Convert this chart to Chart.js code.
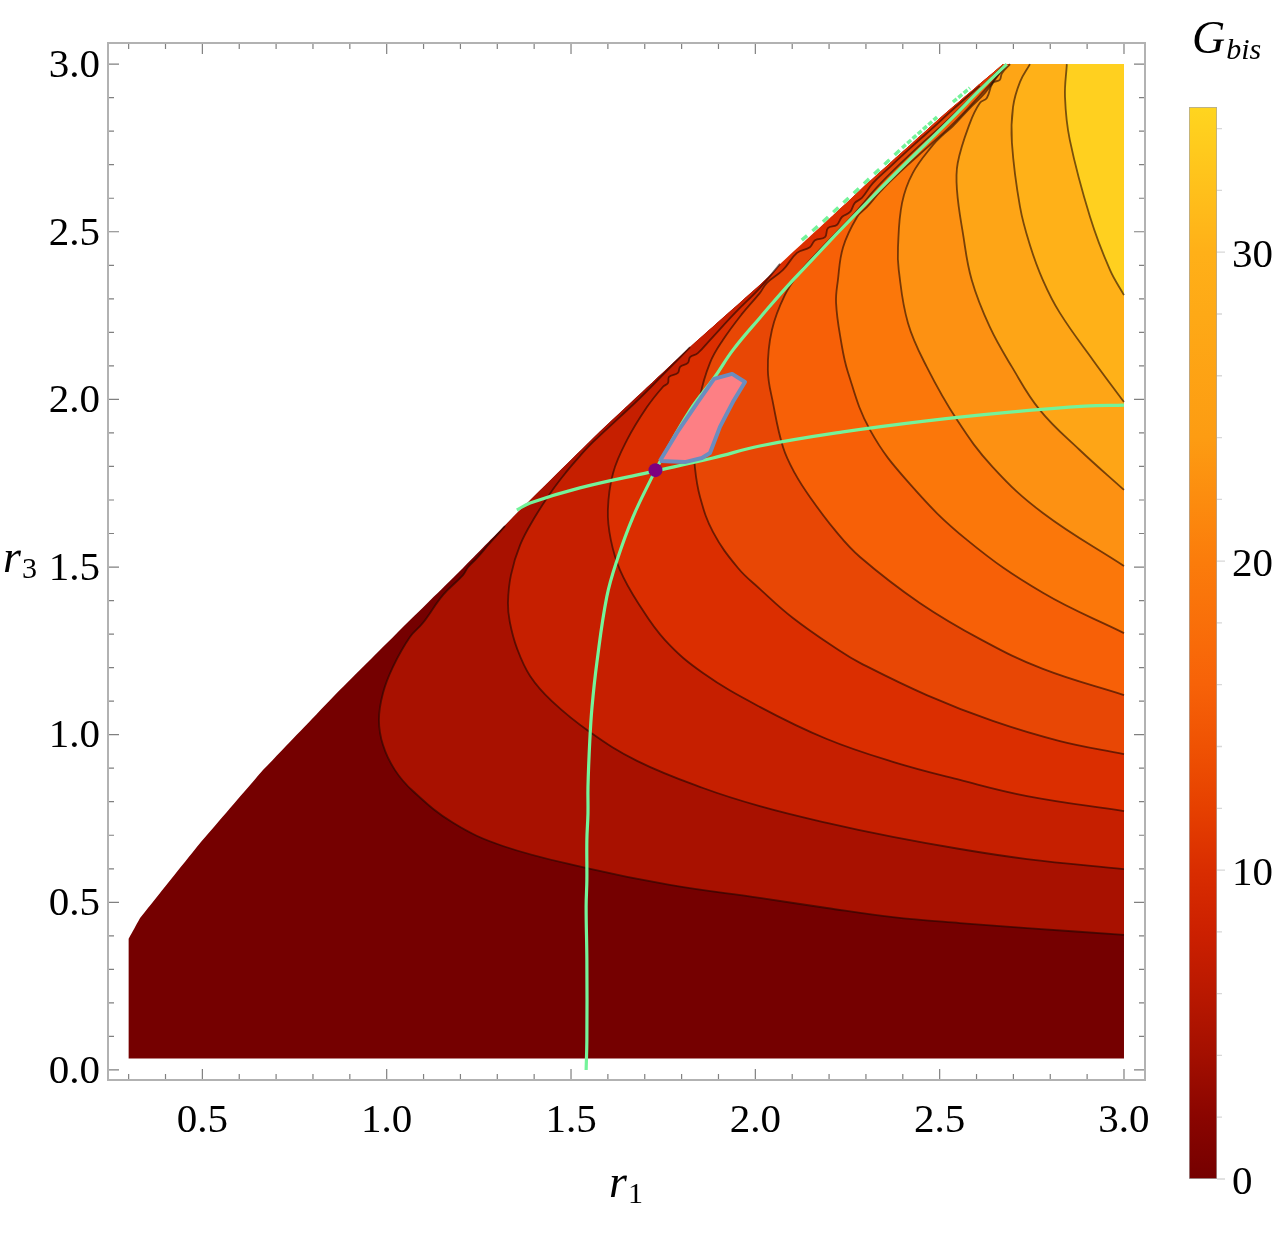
<!DOCTYPE html>
<html>
<head>
<meta charset="utf-8">
<title>G_bis contours</title>
<script src="https://cdn.jsdelivr.net/npm/chart.js@4/dist/chart.umd.min.js"></script>
<style>
	html, body { margin: 0; padding: 0; background: #fff; }
	#plot { position: absolute; left: 0; top: 0; }
	#legendBar { position: absolute; left: 1160px; top: 0; }
</style>
</head>
<body>
<canvas id="plot" width="1160" height="1250"></canvas>
<canvas id="legendBar" width="124" height="1250"></canvas>
<script>
// axis ranges and ticks (r1, r3)
var r1Range = [0.244, 3.057];
var r3Range = [-0.03, 3.063];
var tickStep = 0.1;
var labelStep = 0.5;

// upper edge of the region where G_bis is plotted, [r1, r3]
var domainEdge = [[0.30, 0.391], [0.331, 0.453], [0.485, 0.665], [0.665, 0.895], [0.846, 1.103], [1.028, 1.303], [1.207, 1.497], [1.343, 1.649], [1.560, 1.885], [1.823, 2.156], [2.012, 2.341], [2.284, 2.624], [2.501, 2.839], [2.672, 3.0]];
var domainCorners = [[3.0, 3.0], [3.0, 0.034], [0.30, 0.034]];

// contour lines, running from the upper edge to r1 = 3
var contour1 = [[1.321, 1.622], [1.280, 1.572], [1.245, 1.527], [1.221, 1.500], [1.207, 1.476], [1.153, 1.417], [1.098, 1.333], [1.063, 1.291], [1.017, 1.202], [0.990, 1.124], [0.979, 1.044], [0.990, 0.969], [1.022, 0.895], [1.071, 0.832], [1.180, 0.737], [1.315, 0.668], [1.543, 0.602], [1.768, 0.552], [2.012, 0.513], [2.194, 0.483], [2.373, 0.456], [2.555, 0.438], [2.737, 0.423], [3.0, 0.403]];
var contour2 = [[1.823, 2.156], [1.749, 2.073], [1.687, 2.004], [1.633, 1.948], [1.560, 1.873], [1.524, 1.831], [1.489, 1.786], [1.448, 1.727], [1.402, 1.649], [1.362, 1.566], [1.337, 1.476], [1.329, 1.393], [1.334, 1.336], [1.353, 1.259], [1.389, 1.175], [1.448, 1.100], [1.551, 1.008], [1.679, 0.922], [1.858, 0.841], [2.012, 0.787], [2.194, 0.737], [2.373, 0.695], [2.555, 0.659], [2.737, 0.629], [3.0, 0.599]];
var contour3 = [[2.067, 2.404], [2.012, 2.332], [1.945, 2.258], [1.877, 2.177], [1.844, 2.138], [1.823, 2.126], [1.817, 2.109], [1.796, 2.097], [1.790, 2.079], [1.766, 2.067], [1.763, 2.049], [1.749, 2.037], [1.706, 1.977], [1.652, 1.879], [1.614, 1.780], [1.600, 1.670], [1.608, 1.581], [1.633, 1.491], [1.682, 1.393], [1.755, 1.282], [1.858, 1.184], [2.012, 1.083], [2.194, 0.987], [2.373, 0.919], [2.555, 0.865], [2.737, 0.817], [3.0, 0.772]];
var contour4 = [[2.609, 2.935], [2.528, 2.857], [2.487, 2.815], [2.433, 2.762], [2.365, 2.693], [2.319, 2.645], [2.289, 2.601], [2.270, 2.586], [2.257, 2.559], [2.235, 2.544], [2.221, 2.520], [2.197, 2.511], [2.189, 2.484], [2.162, 2.475], [2.148, 2.454], [2.113, 2.437], [2.075, 2.386], [2.031, 2.347], [2.012, 2.317], [1.964, 2.255], [1.912, 2.177], [1.877, 2.109], [1.850, 2.007], [1.836, 1.858], [1.836, 1.798], [1.850, 1.709], [1.885, 1.605], [1.953, 1.497], [2.012, 1.435], [2.102, 1.348], [2.229, 1.250], [2.284, 1.214], [2.465, 1.118], [2.644, 1.041], [2.826, 0.981], [3.0, 0.942]];
var contour5 = [[2.672, 2.994], [2.636, 2.956], [2.528, 2.839], [2.433, 2.744], [2.338, 2.642], [2.270, 2.556], [2.216, 2.493], [2.162, 2.431], [2.121, 2.380], [2.080, 2.311], [2.045, 2.207], [2.034, 2.088], [2.048, 1.989], [2.075, 1.858], [2.107, 1.780], [2.148, 1.709], [2.216, 1.610], [2.284, 1.530], [2.446, 1.393], [2.615, 1.282], [2.780, 1.196], [3.0, 1.118]];
var contour6 = [[2.680, 2.997], [2.623, 2.923], [2.541, 2.827], [2.474, 2.759], [2.392, 2.678], [2.338, 2.619], [2.303, 2.574], [2.276, 2.544], [2.238, 2.454], [2.224, 2.356], [2.219, 2.288], [2.232, 2.177], [2.251, 2.082], [2.311, 1.909], [2.419, 1.748], [2.574, 1.581], [2.780, 1.423], [3.0, 1.303]];
var contour7 = [[2.682, 2.997], [2.663, 2.973], [2.623, 2.914], [2.582, 2.869], [2.536, 2.815], [2.509, 2.789], [2.482, 2.759], [2.427, 2.675], [2.398, 2.586], [2.387, 2.454], [2.389, 2.386], [2.414, 2.228], [2.465, 2.097], [2.547, 1.939], [2.644, 1.798], [2.780, 1.661], [3.0, 1.503]];
var contour8 = [[2.691, 3.0], [2.669, 2.973], [2.663, 2.953], [2.644, 2.944], [2.628, 2.899], [2.609, 2.884], [2.582, 2.824], [2.549, 2.705], [2.547, 2.624], [2.563, 2.496], [2.587, 2.356], [2.636, 2.216], [2.696, 2.097], [2.772, 1.968], [2.880, 1.849], [3.0, 1.730]];
var contour9 = [[2.745, 3.0], [2.718, 2.947], [2.699, 2.872], [2.696, 2.765], [2.718, 2.574], [2.745, 2.460], [2.780, 2.356], [2.826, 2.258], [2.916, 2.117], [3.0, 1.992]];
var contour10 = [[2.845, 3.0], [2.840, 2.902], [2.853, 2.774], [2.908, 2.544], [2.962, 2.386], [3.0, 2.311]];
var contours = [contour1, contour2, contour3, contour4, contour5, contour6, contour7, contour8, contour9, contour10];
var bandColors = ['#750000', '#a81100', '#c61f00', '#db2e00', '#e84705', '#f76007', '#fb770a', '#fd9112', '#fea516', '#ffb118', '#ffd01f'];

// green curves, allowed region and the marked point
var greenUpward = [[1.541, 0.0], [1.543, 0.089], [1.543, 0.328], [1.541, 0.486], [1.543, 0.567], [1.543, 0.686], [1.546, 0.766], [1.546, 0.844], [1.551, 0.984], [1.557, 1.083], [1.570, 1.214], [1.597, 1.411], [1.625, 1.521], [1.668, 1.649], [1.720, 1.769], [1.741, 1.813], [1.823, 1.968], [1.890, 2.067], [1.939, 2.147], [2.012, 2.243], [2.102, 2.356], [2.338, 2.627], [2.536, 2.842], [2.609, 2.923], [2.682, 3.0]];
var greenAcross = [[1.353, 1.670], [1.389, 1.691], [1.524, 1.736], [1.714, 1.783], [1.885, 1.825], [2.012, 1.861], [2.238, 1.903], [2.465, 1.936], [2.691, 1.962], [2.894, 1.980], [3.0, 1.983]];
var greenDashSparse = [[2.126, 2.475], [2.183, 2.529], [2.262, 2.610], [2.343, 2.693], [2.398, 2.750]];
var greenDashDense = [[2.398, 2.750], [2.493, 2.842]];
var greenDashTop = [[2.536, 2.887], [2.582, 2.929]];
var pinkRegion = [[1.741, 1.816], [1.809, 1.813], [1.855, 1.825], [1.877, 1.840], [1.904, 1.918], [1.939, 1.992], [1.972, 2.052], [1.937, 2.076], [1.888, 2.061], [1.842, 1.989], [1.787, 1.900], [1.741, 1.816]];
var markedPoint = [[1.729, 1.789]];

// colour bar
var gBisRange = [0, 34.7];
var gBisTickStep = 2;
var gBisLabelStep = 10;
var gBisStops = [0, 2, 4, 6, 8, 10, 12, 14, 16, 20, 24, 28, 30, 34.7];
var gBisColors = ['#750000', '#8a0500', '#a30f00', '#b91800', '#cc2000', '#d92d00', '#e64000', '#ef5203', '#f76208', '#fb7c0b', '#fd9c12', '#fea916', '#ffb018', '#ffd51f'];

var numberFont = { family: '"Liberation Serif"', size: 41 };
var lineGreen = '#74f39a';

function toPoints(pairs) {
	return pairs.map(function(p) {
		return { x: p[0], y: p[1] };
	});
}

// repeating a point keeps the smoothing from rounding the corner there
function sharp(pairs) {
	var out = [];
	pairs.forEach(function(p) {
		out.push(p, p);
	});
	return out;
}

function domainPolygon() {
	return sharp(domainEdge.concat(domainCorners));
}

// everything above a contour: the contour, then round the top right corner and back down the edge
function bandPolygon(contour) {
	var start = contour[0];
	var end = contour[contour.length - 1];
	var edge = domainEdge.filter(function(p) {
		return p[0] > start[0];
	}).reverse();
	return [start].concat(contour, sharp([end, [3.0, 3.0]].concat(edge)), [start]);
}

function lineSet(pairs, color, width, extra) {
	return Object.assign({
		data: toPoints(pairs),
		showLine: true,
		fill: false,
		borderColor: color,
		borderWidth: width,
		pointRadius: 0,
		tension: 0.4
	}, extra || {});
}

function fillSet(pairs, color) {
	return lineSet(pairs, 'rgba(0,0,0,0)', 0, { fill: 'shape', backgroundColor: color });
}

var datasets = [];
datasets.push(fillSet(domainPolygon(), bandColors[0]));
contours.forEach(function(contour, i) {
	datasets.push(fillSet(bandPolygon(contour), bandColors[i + 1]));
});
contours.forEach(function(contour) {
	datasets.push(lineSet(contour, 'rgba(30,5,0,0.6)', 1.8));
});
datasets.push(lineSet(greenUpward, lineGreen, 3.2));
datasets.push(lineSet(greenAcross, lineGreen, 3.2));
datasets.push(lineSet(greenDashSparse, lineGreen, 3.5, { borderDash: [7, 7], tension: 0 }));
datasets.push(lineSet(greenDashDense, lineGreen, 3.5, { borderDash: [5, 2], tension: 0 }));
datasets.push(lineSet(greenDashTop, lineGreen, 3.5, { borderDash: [5, 2], tension: 0 }));
datasets.push(lineSet(pinkRegion, '#6b8dbf', 4, { fill: 'shape', backgroundColor: '#fd7f84', tension: 0, borderJoinStyle: 'round' }));
datasets.push({
	data: toPoints(markedPoint),
	pointRadius: 7,
	pointBackgroundColor: '#7d0080',
	pointBorderWidth: 0
});
// later entries go on top
datasets.forEach(function(d, i) {
	d.order = datasets.length - i;
});

function isLabelled(value, step) {
	var n = value / step;
	return Math.abs(n - Math.round(n)) < 1e-6;
}

function mathText(ctx, main, sub, x, y, mainSize, subSize, subDy, subItalic) {
	ctx.save();
	ctx.fillStyle = '#000';
	ctx.textAlign = 'left';
	ctx.textBaseline = 'alphabetic';
	ctx.font = 'italic ' + mainSize + 'px "Liberation Serif"';
	ctx.fillText(main, x, y);
	var w = ctx.measureText(main).width;
	ctx.font = (subItalic ? 'italic ' : '') + subSize + 'px "Liberation Serif"';
	ctx.fillText(sub, x + w + 1, y + subDy);
	ctx.restore();
}

// Mathematica style frame, ticks point inward on all four sides
var framePlugin = {
	id: 'frameTicks',
	afterDatasetsDraw: function(chart) {
		var ctx = chart.ctx;
		var a = chart.chartArea;
		ctx.save();
		ctx.strokeStyle = '#808080';
		ctx.lineWidth = 1.2;
		ctx.beginPath();
		chart.scales.x.ticks.forEach(function(t) {
			var px = chart.scales.x.getPixelForValue(t.value);
			var len = isLabelled(t.value, labelStep) ? 11 : 6;
			ctx.moveTo(px, a.bottom);
			ctx.lineTo(px, a.bottom - len);
			ctx.moveTo(px, a.top);
			ctx.lineTo(px, a.top + len);
		});
		chart.scales.y.ticks.forEach(function(t) {
			var py = chart.scales.y.getPixelForValue(t.value);
			var len = isLabelled(t.value, labelStep) ? 11 : 6;
			ctx.moveTo(a.left, py);
			ctx.lineTo(a.left + len, py);
			ctx.moveTo(a.right, py);
			ctx.lineTo(a.right - len, py);
		});
		ctx.stroke();
		ctx.strokeStyle = '#b2b2b2';
		ctx.lineWidth = 2;
		ctx.strokeRect(a.left, a.top, a.right - a.left, a.bottom - a.top);
		ctx.restore();
		mathText(ctx, 'r', '1', 609, 1197, 46, 30, 6, false);
		mathText(ctx, 'r', '3', 3, 572, 46, 30, 6, false);
	}
};

function axisLabel(value) {
	return isLabelled(value, labelStep) ? value.toFixed(1) : '';
}

new Chart(document.getElementById('plot'), {
	type: 'scatter',
	data: { datasets: datasets },
	plugins: [framePlugin],
	options: {
		responsive: false,
		animation: false,
		layout: { padding: { top: 43, right: 15, left: 0, bottom: 0 } },
		plugins: { legend: { display: false }, tooltip: { enabled: false } },
		scales: {
			x: {
				type: 'linear',
				min: r1Range[0],
				max: r1Range[1],
				grid: { display: false },
				border: { display: false },
				afterFit: function(scale) {
					scale.height = 170;
					scale.paddingRight = 0;
				},
				ticks: {
					stepSize: tickStep,
					includeBounds: false,
					autoSkip: false,
					maxRotation: 0,
					padding: 9,
					color: '#000',
					font: numberFont,
					callback: axisLabel
				}
			},
			y: {
				type: 'linear',
				min: r3Range[0],
				max: r3Range[1],
				grid: { display: false },
				border: { display: false },
				afterFit: function(scale) { scale.width = 108; },
				ticks: {
					stepSize: tickStep,
					includeBounds: false,
					autoSkip: false,
					padding: 0,
					labelOffset: 2,
					color: '#000',
					font: numberFont,
					callback: axisLabel
				}
			}
		}
	}
});

var legendPlugin = {
	id: 'legendDecor',
	afterDatasetsDraw: function(chart) {
		var ctx = chart.ctx;
		var a = chart.chartArea;
		ctx.save();
		ctx.strokeStyle = '#d8d8d8';
		ctx.lineWidth = 1.3;
		ctx.beginPath();
		chart.scales.y.ticks.forEach(function(t) {
			var py = chart.scales.y.getPixelForValue(t.value);
			ctx.moveTo(a.right, py);
			ctx.lineTo(a.right + (isLabelled(t.value, gBisLabelStep) ? 8 : 5), py);
		});
		ctx.stroke();
		ctx.restore();
		mathText(ctx, 'G', 'bis', 32, 53, 46, 30, 6, true);
	}
};

new Chart(document.getElementById('legendBar'), {
	type: 'bar',
	data: {
		labels: ['G_bis'],
		datasets: [{
			data: [gBisRange],
			barPercentage: 1,
			categoryPercentage: 1,
			borderWidth: 1,
			borderColor: 'rgba(80,80,80,0.5)',
			borderSkipped: false,
			backgroundColor: function(context) {
				var chart = context.chart;
				if (!chart.chartArea) {
					return gBisColors[0];
				}
				var y = chart.scales.y;
				var g = chart.ctx.createLinearGradient(0, y.getPixelForValue(gBisRange[0]), 0, y.getPixelForValue(gBisRange[1]));
				gBisStops.forEach(function(v, i) {
					g.addColorStop(v / gBisRange[1], gBisColors[i]);
				});
				return g;
			}
		}]
	},
	plugins: [legendPlugin],
	options: {
		responsive: false,
		animation: false,
		layout: { padding: { top: 107, left: 29, right: 0, bottom: 71 } },
		plugins: { legend: { display: false }, tooltip: { enabled: false } },
		scales: {
			x: { display: false },
			y: {
				position: 'right',
				min: gBisRange[0],
				max: gBisRange[1],
				grid: { display: false },
				border: { display: false },
				afterFit: function(scale) { scale.width = 67; },
				ticks: {
					stepSize: gBisTickStep,
					includeBounds: false,
					autoSkip: false,
					padding: 7,
					labelOffset: 4,
					color: '#000',
					font: numberFont,
					callback: function(value) {
						return isLabelled(value, gBisLabelStep) ? String(value) : '';
					}
				}
			}
		}
	}
});
</script>
</body>
</html>
